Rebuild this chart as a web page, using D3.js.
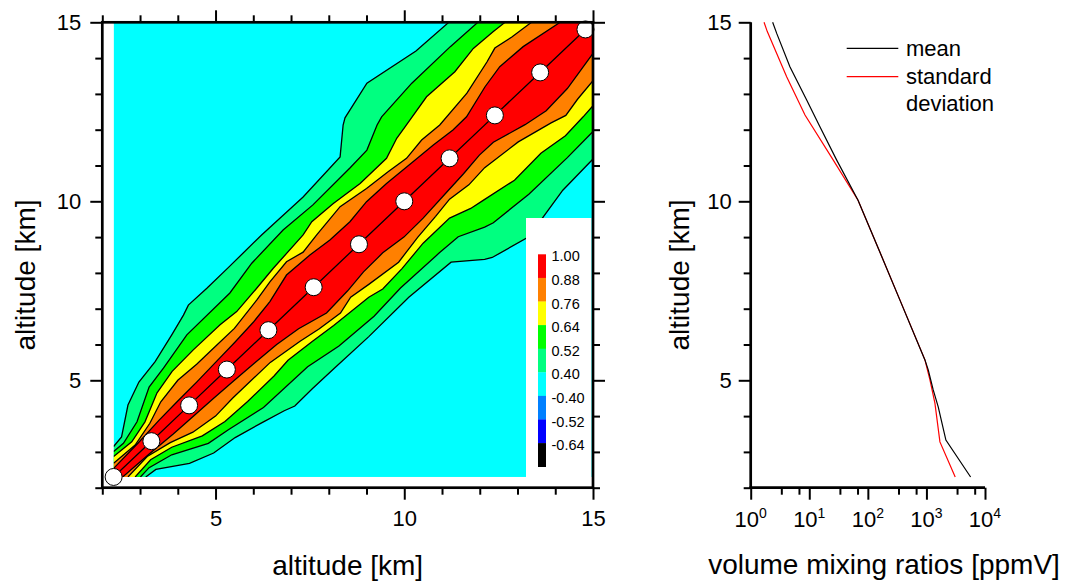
<!DOCTYPE html>
<html><head><meta charset="utf-8">
<script src="https://cdn.jsdelivr.net/npm/d3@7"></script>
<style>body{margin:0;background:#fff} svg{display:block} text{font-family:"Liberation Sans",Arial,sans-serif;fill:#000}</style>
</head><body><svg id="c" width="1066" height="582"></svg>
<script>
// ---------- data ----------
const gridAlt = [2.3,3.3,4.3,5.3,6.4,7.6,8.8,10.0,11.2,12.4,13.6,14.8];
const levels = [0.40,0.52,0.64,0.76,0.88];
const levelColors = ["#00FF80","#00FF00","#FFFF00","#FF8000","#FF0000"];
const backgroundColor = "#00FFFF";
// upper-left halves of the correlation contours [x km, y km] (matrix is symmetric)
const contour040 = [[2.3,3.15],[2.51,3.42],[2.68,4.31],[2.97,4.95],[3.40,5.52],[3.84,6.27],[4.15,6.82],[4.28,7.10],[4.77,7.57],[5.33,8.14],[6.22,9.06],[7.32,10.12],[8.30,11.24],[8.38,12.13],[8.43,12.33],[9.01,13.30],[10.31,14.20],[11.18,15]];
const contour052 = [[2.3,3.01],[2.56,3.24],[2.92,3.84],[3.24,4.81],[3.62,5.34],[4.24,6.27],[5.38,7.44],[5.96,8.27],[6.79,9.20],[7.58,9.90],[8.56,10.93],[9.01,11.43],[9.28,12.13],[9.40,12.36],[10.20,13.30],[11.22,14.32],[11.95,15]];
const contour064 = [[2.3,2.87],[2.78,3.28],[3.13,3.84],[3.45,4.65],[3.85,5.25],[4.41,5.85],[5.12,6.55],[5.56,6.92],[6.09,7.57],[6.53,8.13],[7.32,9.06],[7.55,9.43],[8.12,9.94],[8.83,10.50],[9.53,11.20],[9.80,11.76],[10.02,12.08],[10.59,12.92],[11.34,13.62],[11.83,14.27],[12.36,14.74],[12.67,15]];
const contour076 = [[2.3,2.68],[2.87,3.19],[3.26,3.80],[3.55,4.40],[4.0,5.0],[4.5,5.45],[5.0,5.95],[5.5,6.45],[6.09,7.24],[6.44,7.75],[6.88,8.31],[7.32,8.58],[7.68,9.06],[8.30,9.85],[9.00,10.36],[9.58,10.83],[10.06,11.20],[10.46,11.71],[10.94,12.13],[11.66,13.02],[12.19,13.89],[12.40,14.28],[12.85,14.59],[13.37,15]];
const contour088 = [[2.3,2.54],[2.95,3.25],[3.5,3.88],[4.0,4.42],[4.5,4.95],[5.0,5.5],[5.5,6.05],[6.0,6.62],[6.44,7.20],[6.88,7.94],[7.50,8.50],[8.03,8.92],[8.56,9.43],[9.00,9.99],[9.53,10.50],[10.24,11.11],[10.77,11.57],[11.29,11.99],[11.65,12.36],[12.14,13.20],[12.53,13.76],[13.15,14.32],[14.13,15]];
const contours = [contour040,contour052,contour064,contour076,contour088];
const legendLabels = ["1.00","0.88","0.76","0.64","0.52","0.40","-0.40","-0.52","-0.64"];
const legendColors = ["#FF0000","#FF8000","#FFFF00","#00FF00","#00FF80","#00FFFF","#0080FF","#0000FF","#000000"];
const xTicksMajor = [5,10,15];
const xTicksMinor = [2,3,4,6,7,8,9,11,12,13,14];
// right panel profiles
const meanAlt = [2.3,3.33,4.26,4.73,5.29,5.57,7.24,8.64,10.03,11.15,12.08,12.83,13.76,14.69,15.0];
const meanVmr = [5680,2150,1590,1306,1074,943,353,155,68,29.4,15.2,9.03,4.67,2.78,2.37];
const stdAlt = [2.3,3.28,4.36,5.01,5.57,7.24,8.64,10.03,11.15,12.41,13.48,14.74,15.0];
const stdVmr = [3100,1700,1396,1148,943,354,155,68,25.7,8.45,4.11,1.92,1.69];
const logMajor = [1,10,100,1000,10000];
const logMinor = [3.333,6.667,33.33,66.67,333.3,666.7,3333,6667];
const legendSeries = ["mean","standard deviation"];

// ---------- drawing ----------
const svg = d3.select("#c");
const x = d3.scaleLinear().domain([2,15]).range([102.3,593]);
const y = d3.scaleLinear().domain([2,15]).range([487.7,22.3]);
const dMin = 2.3, dMax = 15;

svg.append("clipPath").attr("id","dc").append("rect")
  .attr("x",x(dMin)).attr("y",y(dMax)).attr("width",x(dMax)-x(dMin)).attr("height",y(dMin)-y(dMax));
const plot = svg.append("g").attr("clip-path","url(#dc)");
plot.append("rect").attr("x",x(dMin)).attr("y",y(dMax)).attr("width",x(dMax)-x(dMin)).attr("height",y(dMin)-y(dMax)).attr("fill",backgroundColor);

const mirror = p => [p[1],p[0]];
function band(ul){
  const pts = ul.slice();
  pts.push([dMax,dMax]);
  for(let i=ul.length-1;i>=0;i--) pts.push(mirror(ul[i]));
  pts.push([dMin,dMin]);
  return pts;
}
const line = d3.line().x(d=>x(d[0])).y(d=>y(d[1]));
contours.forEach((c,i)=>{
  plot.append("path").attr("d",line(band(c))+"Z").attr("fill",levelColors[i]);
});
contours.forEach(c=>{
  plot.append("path").attr("d",line(c)).attr("fill","none").attr("stroke","#000").attr("stroke-width",1.3);
  plot.append("path").attr("d",line(c.map(mirror))).attr("fill","none").attr("stroke","#000").attr("stroke-width",1.3);
});
const diag = gridAlt.map(a=>[a,a]).concat([[dMax,dMax]]);
plot.append("path").attr("d",line(diag)).attr("fill","none").attr("stroke","#000").attr("stroke-width",1.3);

// legend box (inside left panel)
const lg = svg.append("g");
lg.append("rect").attr("x",526).attr("y",218).attr("width",65.5).attr("height",260).attr("fill","#fff");
const sw = 23.6, sTop = 254.3;
legendColors.forEach((c,i)=>{
  lg.append("rect").attr("x",538).attr("y",sTop+i*sw).attr("width",8).attr("height",sw+0.3).attr("fill",c);
  lg.append("text").attr("x",551.5).attr("y",sTop+i*sw+7).attr("font-size",14.5).text(legendLabels[i]);
});

// circles
svg.append("g").selectAll("circle").data(gridAlt).join("circle")
  .attr("cx",d=>x(d)).attr("cy",d=>y(d)).attr("r",8.5)
  .attr("fill","#fff").attr("stroke","#000").attr("stroke-width",1);

// axes left panel
function styleAxis(g){ g.select(".domain").remove(); g.selectAll("line").attr("stroke","#000").attr("stroke-width",2); g.selectAll("text").attr("font-size",22).attr("font-family","Liberation Sans, Arial, sans-serif"); }
const B = y(2), T = y(15), L = x(2), R = x(15);
svg.append("g").attr("transform",`translate(0,${B})`).call(d3.axisBottom(x).tickValues(xTicksMajor).tickSize(12).tickPadding(11).tickFormat(d3.format("d"))).call(styleAxis);
svg.append("g").attr("transform",`translate(0,${B})`).call(d3.axisBottom(x).tickValues(xTicksMinor).tickSize(7).tickFormat("")).call(styleAxis);
svg.append("g").attr("transform",`translate(0,${T})`).call(d3.axisTop(x).tickValues(xTicksMajor).tickSize(12).tickFormat("")).call(styleAxis);
svg.append("g").attr("transform",`translate(0,${T})`).call(d3.axisTop(x).tickValues(xTicksMinor).tickSize(7).tickFormat("")).call(styleAxis);
svg.append("g").attr("transform",`translate(${L},0)`).call(d3.axisLeft(y).tickValues(xTicksMajor).tickSize(12).tickPadding(9).tickFormat(d3.format("d"))).call(styleAxis);
svg.append("g").attr("transform",`translate(${L},0)`).call(d3.axisLeft(y).tickValues(xTicksMinor).tickSize(7).tickFormat("")).call(styleAxis);
svg.append("g").attr("transform",`translate(${R},0)`).call(d3.axisRight(y).tickValues(xTicksMajor).tickSize(12).tickFormat("")).call(styleAxis);
svg.append("g").attr("transform",`translate(${R},0)`).call(d3.axisRight(y).tickValues(xTicksMinor).tickSize(7).tickFormat("")).call(styleAxis);
svg.append("rect").attr("x",L).attr("y",T).attr("width",R-L).attr("height",B-T).attr("fill","none").attr("stroke","#000").attr("stroke-width",2.7);
svg.append("text").attr("x",(L+R)/2).attr("y",575).attr("text-anchor","middle").attr("font-size",28).text("altitude [km]");
svg.append("text").attr("transform",`translate(35,${(T+B)/2+20}) rotate(-90)`).attr("text-anchor","middle").attr("font-size",28).text("altitude [km]");

// ---------- right panel ----------
const x2 = d3.scaleLog().domain([1,10000]).range([750.7,985]);
const L2 = x2(1), R2 = x2(10000);
const line2 = d3.line().x(d=>x2(d[0])).y(d=>y(d[1]));
svg.append("path").attr("d",line2(stdVmr.map((v,i)=>[v,stdAlt[i]]))).attr("fill","none").attr("stroke","#FF0000").attr("stroke-width",1.2);
svg.append("path").attr("d",line2(meanVmr.map((v,i)=>[v,meanAlt[i]]))).attr("fill","none").attr("stroke","#000").attr("stroke-width",1.2);

svg.append("g").attr("transform",`translate(${L2},0)`).call(d3.axisLeft(y).tickValues(xTicksMajor).tickSize(12).tickPadding(7).tickFormat(d3.format("d"))).call(styleAxis);
svg.append("g").attr("transform",`translate(${L2},0)`).call(d3.axisLeft(y).tickValues(xTicksMinor).tickSize(7).tickFormat("")).call(styleAxis);
svg.append("g").attr("transform",`translate(0,${B})`).call(d3.axisBottom(x2).tickValues(logMajor).tickSize(12).tickFormat("")).call(styleAxis);
svg.append("g").attr("transform",`translate(0,${B})`).call(d3.axisBottom(x2).tickValues(logMinor).tickSize(7).tickFormat("")).call(styleAxis);
svg.append("line").attr("x1",L2).attr("x2",L2).attr("y1",T).attr("y2",B+1.3).attr("stroke","#000").attr("stroke-width",2.7);
svg.append("line").attr("x1",L2-1.3).attr("x2",R2).attr("y1",B).attr("y2",B).attr("stroke","#000").attr("stroke-width",2.7);
logMajor.forEach(v=>{
  const t = svg.append("text").attr("x",x2(v)).attr("y",527).attr("text-anchor","middle").attr("font-size",22);
  t.append("tspan").text("10");
  t.append("tspan").attr("font-size",14).attr("dy",-9).text(String(Math.round(Math.log10(v))));
});
svg.append("text").attr("x",884).attr("y",574).attr("text-anchor","middle").attr("font-size",28).text("volume mixing ratios [ppmV]");
svg.append("text").attr("transform",`translate(689,${(T+B)/2+20}) rotate(-90)`).attr("text-anchor","middle").attr("font-size",28).text("altitude [km]");

// legend right panel
svg.append("line").attr("x1",846.7).attr("x2",898.3).attr("y1",48.3).attr("y2",48.3).attr("stroke","#000").attr("stroke-width",1.2);
svg.append("text").attr("x",906).attr("y",56).attr("font-size",22).text(legendSeries[0]);
svg.append("line").attr("x1",846.7).attr("x2",898.3).attr("y1",76.7).attr("y2",76.7).attr("stroke","#FF0000").attr("stroke-width",1.2);
const st = svg.append("text").attr("x",906).attr("y",84).attr("font-size",22);
st.append("tspan").attr("x",906).text("standard");
st.append("tspan").attr("x",906).attr("dy",26.5).text("deviation");
</script></body></html>
